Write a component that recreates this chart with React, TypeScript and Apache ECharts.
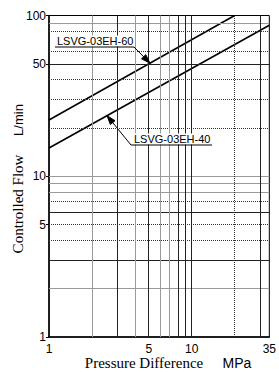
import React, { useEffect, useRef } from "react";
import * as echarts from "echarts";

// ---- data ----
const xTickLabels = [1, 5, 10, 35];
const yTickLabels = [1, 5, 10, 50, 100];
const seriesNames = ["LSVG-03EH-60", "LSVG-03EH-40"];
const flow60 = [[1, 22.4], [20, 100]];
const flow40 = [[1, 15], [35, 87]];
const hGridDark = [50, 6, 3];
const hGridGray = [90, 10, 9, 8, 2];
const hGridDotted = [80, 60, 40, 30, 20, 7, 5, 4];
const vGridDark = [3, 5, 8, 9, 10, 30];
const vGridGray = [2, 4, 6, 7];
const vGridDotted = [20];
const arrowAtX = [5.1, 2.55];

const labelFont = "'Liberation Sans Narrow', 'Liberation Sans', Arial, sans-serif";
const serif = "'Liberation Serif', 'DejaVu Serif', serif";
const sans = "'Liberation Sans', Arial, sans-serif";

function logInterp(pts: number[][], x: number) {
  const [x0, y0] = pts[0];
  const [x1, y1] = pts[1];
  const t = (Math.log10(x) - Math.log10(x0)) / (Math.log10(x1) - Math.log10(x0));
  return Math.pow(10, Math.log10(y0) + t * (Math.log10(y1) - Math.log10(y0)));
}

const darkStyle = { color: "#222", width: 1, type: "solid" as const };
const grayStyle = { color: "#9a9a9a", width: 1, type: "solid" as const };
const dotStyle = { color: "#333", width: 1, type: [1, 1] as any };

export default function App() {
  const ref = useRef<HTMLDivElement>(null);
  useEffect(() => {
    if (!ref.current) return;
    const chart = echarts.init(ref.current, undefined, { renderer: "svg" });
    const gridMarks: any[] = [
      ...hGridDark.map((v) => ({ yAxis: v, lineStyle: darkStyle })),
      ...hGridGray.map((v) => ({ yAxis: v, lineStyle: grayStyle })),
      ...hGridDotted.map((v) => ({ yAxis: v, lineStyle: dotStyle })),
      ...vGridDark.map((v) => ({ xAxis: v, lineStyle: darkStyle })),
      ...vGridGray.map((v) => ({ xAxis: v, lineStyle: grayStyle })),
      ...vGridDotted.map((v) => ({ xAxis: v, lineStyle: dotStyle })),
    ];
    chart.setOption({
      animation: false,
      backgroundColor: "#fff",
      grid: {
        left: 49,
        top: 15.5,
        right: 5,
        bottom: 35,
        show: true,
        borderColor: "#000",
        borderWidth: 1,
      },
      xAxis: {
        type: "log",
        logBase: 10,
        min: 1,
        max: 35,
        axisLine: { show: true, lineStyle: { color: "#000", width: 1.5 } },
        axisTick: { show: false },
        splitLine: { show: false },
        axisLabel: {
          customValues: xTickLabels,
          color: "#000",
          fontSize: 12,
          fontFamily: labelFont,
          margin: 6,
          showMaxLabel: true,
          showMinLabel: true,
        },
      },
      yAxis: {
        type: "log",
        logBase: 10,
        min: 1,
        max: 100,
        axisLine: { show: true, lineStyle: { color: "#000", width: 1.5 } },
        axisTick: { show: true, customValues: yTickLabels, length: 3, lineStyle: { color: "#000" } },
        splitLine: { show: false },
        axisLabel: {
          customValues: yTickLabels,
          color: "#000",
          fontSize: 12,
          fontFamily: labelFont,
          margin: 3,
        },
      },
      series: [
        {
          type: "line",
          name: "grid",
          data: [],
          z: 1,
          silent: true,
          markLine: {
            silent: true,
            symbol: "none",
            label: { show: false },
            emphasis: { disabled: true },
            data: gridMarks,
          },
        },
        {
          type: "line",
          name: seriesNames[0],
          data: flow60,
          z: 3,
          symbol: "none",
          lineStyle: { color: "#000", width: 1.6 },
        },
        {
          type: "line",
          name: seriesNames[1],
          data: flow40,
          z: 3,
          symbol: "none",
          lineStyle: { color: "#000", width: 1.6 },
        },
      ],
    });

    const tip60 = chart.convertToPixel({ gridIndex: 0 }, [arrowAtX[0], logInterp(flow60, arrowAtX[0])]) as number[];
    const tip40 = chart.convertToPixel({ gridIndex: 0 }, [arrowAtX[1], logInterp(flow40, arrowAtX[1])]) as number[];

    const arrowHead = (from: number[], tip: number[]) => {
      const dx = tip[0] - from[0];
      const dy = tip[1] - from[1];
      const len = Math.hypot(dx, dy) || 1;
      const ux = dx / len, uy = dy / len;
      const L = 9, W = 3;
      const bx = tip[0] - ux * L, by = tip[1] - uy * L;
      return [
        [tip[0], tip[1]],
        [bx - uy * W, by + ux * W],
        [bx + uy * W, by - ux * W],
      ];
    };

    const lead60Start = [134, 47];
    const lead40Start = [131, 145];

    chart.setOption({
      graphic: [
        {
          type: "text",
          x: 57,
          y: 41,
          z: 10,
          style: {
            text: seriesNames[0],
            fontSize: 11,
            fontFamily: labelFont,
            fill: "#000",
            align: "left",
            verticalAlign: "middle",
            backgroundColor: "#fff",
          },
        },
        {
          type: "polyline",
          z: 10,
          shape: { points: [[55, 47], lead60Start, tip60] },
          style: { stroke: "#000", lineWidth: 1, fill: "none" },
        },
        {
          type: "polygon",
          z: 10,
          shape: { points: arrowHead(lead60Start, tip60) },
          style: { fill: "#000", stroke: "#000" },
        },
        {
          type: "text",
          x: 134,
          y: 139,
          z: 10,
          style: {
            text: seriesNames[1],
            fontSize: 11,
            fontFamily: labelFont,
            fill: "#000",
            align: "left",
            verticalAlign: "middle",
            backgroundColor: "#fff",
          },
        },
        {
          type: "polyline",
          z: 10,
          shape: { points: [[212, 145], lead40Start, tip40] },
          style: { stroke: "#000", lineWidth: 1, fill: "none" },
        },
        {
          type: "polygon",
          z: 10,
          shape: { points: arrowHead(lead40Start, tip40) },
          style: { fill: "#000", stroke: "#000" },
        },
        {
          type: "text",
          x: 18,
          y: 204,
          rotation: Math.PI / 2,
          style: {
            text: "Controlled Flow",
            fontSize: 15,
            fontFamily: serif,
            fill: "#000",
            align: "center",
            verticalAlign: "middle",
          },
        },
        {
          type: "text",
          x: 18,
          y: 120,
          rotation: Math.PI / 2,
          style: {
            text: "L/min",
            fontSize: 13,
            fontFamily: sans,
            fill: "#000",
            align: "center",
            verticalAlign: "middle",
          },
        },
        {
          type: "text",
          x: 144,
          y: 363,
          style: {
            text: "Pressure Difference",
            fontSize: 15,
            fontFamily: serif,
            fill: "#000",
            align: "center",
            verticalAlign: "middle",
          },
        },
        {
          type: "text",
          x: 237,
          y: 363,
          style: {
            text: "MPa",
            fontSize: 14,
            fontFamily: sans,
            fill: "#000",
            align: "center",
            verticalAlign: "middle",
          },
        },
      ],
    });

    return () => chart.dispose();
  }, []);
  return (
    <div
      ref={ref}
      style={{ position: "fixed", left: 0, top: 0, width: 279, height: 372 }}
    />
  );
}
